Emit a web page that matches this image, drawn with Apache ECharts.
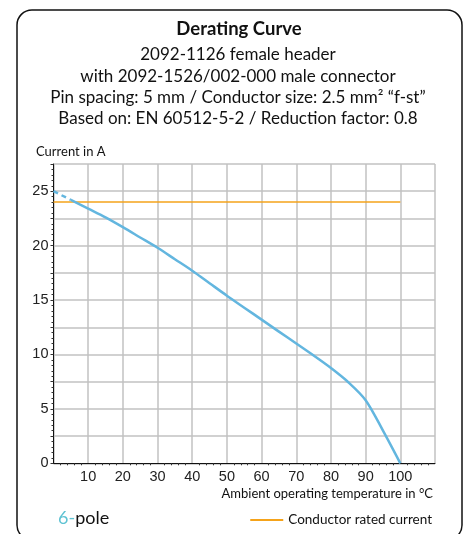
<!DOCTYPE html>
<html>
<head>
<meta charset="utf-8">
<script src="https://cdn.jsdelivr.net/npm/echarts@6/dist/echarts.min.js"></script>
<style>
    html, body { margin: 0; padding: 0; background: #fff; }
    #chart { width: 467px; height: 534px; }
</style>
</head>
<body>
<div id="chart"></div>
<script>
// temperature (°C) / current (A)
const dashedPart = [[0, 25], [5, 24.2]];
const derating = [
    [5, 24.2], [10, 23.4], [15, 22.6], [20, 21.7], [25, 20.75], [30, 19.8],
    [35, 18.75], [40, 17.7], [45, 16.55], [50, 15.4], [55, 14.3], [60, 13.2],
    [65, 12.1], [70, 11.0], [75, 9.9], [80, 8.75], [85, 7.45], [90, 5.8],
    [95, 3.0], [100, 0]
];
const ratedCurrent = [[0, 24], [100, 24]];
// last grid column is labelled 105
const xLabels = { 0: '', 10: '10', 20: '20', 30: '30', 40: '40', 50: '50', 60: '60',
    70: '70', 80: '80', 90: '90', 100: '100', 110: '105' };

const subLines = [
    '2092-1126 female header',
    'with 2092-1526/002-000 male connector',
    'Pin spacing: 5 mm / Conductor size: 2.5 mm² “f-st”',
    'Based on: EN 60512-5-2 / Reduction factor: 0.8'
];

const blue = '#63b6df';
const orange = '#f5a31a';
const font = 'Lato';

const myChart = echarts.init(document.getElementById('chart'));

// 标题文字
const headerText = [{
    type: 'text',
    x: 239,
    y: 29,
    style: {
        text: 'Derating Curve', fontSize: 18.5, fontWeight: 'bold', fill: '#111',
        fontFamily: font, align: 'center', verticalAlign: 'middle'
    }
}].concat(subLines.map((t, i) => ({
    type: 'text',
    x: 238,
    y: 55 + i * 21.2,
    style: {
        text: t, fontSize: 17, fill: '#111', fontFamily: font,
        align: 'center', verticalAlign: 'middle'
    }
})));

let option = {
    animation: false,
    textStyle: { fontFamily: font },
    title: [{
        text: '{c|6-}{k|pole}',
        left: 53,
        top: 504,
        textStyle: {
            rich: {
                c: { color: '#5fc3d3', fontSize: 18, fontFamily: font, fontWeight: 'normal' },
                k: { color: '#111', fontSize: 18, fontFamily: font, fontWeight: 'normal' }
            }
        }
    }],
    legend: {
        right: 30,
        top: 508,
        icon: 'rect',
        itemWidth: 33,
        itemHeight: 2,
        itemGap: 4,
        data: ['Conductor rated current'],
        textStyle: { fontSize: 13.5, color: '#111', fontFamily: font }
    },
    grid: {
        left: 53.5,
        right: 32,
        top: 164,
        bottom: 70.7,
        containLabel: false
    },
    graphic: [{
        type: 'rect',
        shape: { x: 17, y: 10, width: 445, height: 530, r: 15 },
        style: { fill: 'none', stroke: '#111', lineWidth: 1.5 },
        z: -1
    }, {
        type: 'text',
        x: 36,
        y: 152,
        style: { text: 'Current in A', fontSize: 13, fill: '#111', fontFamily: font, verticalAlign: 'middle' }
    }, {
        type: 'text',
        x: 433,
        y: 494,
        style: {
            text: 'Ambient operating temperature in °C', fontSize: 13, fill: '#111',
            fontFamily: font, align: 'right', verticalAlign: 'middle'
        }
    }].concat(headerText),
    xAxis: {
        type: 'value',
        min: 0,
        max: 110,
        interval: 10,
        axisLine: { show: true, lineStyle: { color: '#111', width: 1 } },
        axisTick: { show: false },
        minorTick: { show: true, splitNumber: 5, length: 2, lineStyle: { color: '#333' } },
        splitLine: { show: true, lineStyle: { color: '#c2c2c2', width: 1.5 } },
        axisLabel: {
            fontFamily: 'Liberation Sans',
            fontSize: 14.5,
            color: '#222',
            margin: 6,
            alignMaxLabel: 'right',
            formatter: (v) => xLabels[v] !== undefined ? xLabels[v] : ''
        }
    },
    yAxis: {
        type: 'value',
        min: 0,
        max: 27.5,
        interval: 2.5,
        axisLine: { show: true, lineStyle: { color: '#111', width: 1 } },
        axisTick: { show: true, length: 3, lineStyle: { color: '#333' } },
        minorTick: { show: true, splitNumber: 5, length: 2, lineStyle: { color: '#333' } },
        splitLine: { show: true, lineStyle: { color: '#c2c2c2', width: 1.5 } },
        axisLabel: {
            fontFamily: 'Liberation Sans',
            fontSize: 14.5,
            color: '#222',
            margin: 5,
            formatter: (v) => (v % 5 === 0 && v <= 25) ? String(v) : ''
        }
    },
    series: [{
        name: 'Conductor rated current',
        type: 'line',
        data: ratedCurrent,
        symbol: 'none',
        lineStyle: { color: orange, width: 1.5 },
        itemStyle: { color: orange },
        z: 3
    }, {
        name: 'dashed',
        type: 'line',
        data: dashedPart,
        symbol: 'none',
        lineStyle: { color: blue, width: 2.5, type: [5, 4] },
        z: 4
    }, {
        name: 'derating',
        type: 'line',
        data: derating,
        symbol: 'none',
        smooth: 0.3,
        lineStyle: { color: blue, width: 2.5 },
        z: 4
    }]
};

myChart.setOption(option, true);

window.addEventListener('resize', () => {
    myChart.resize();
});
</script>
</body>
</html>
